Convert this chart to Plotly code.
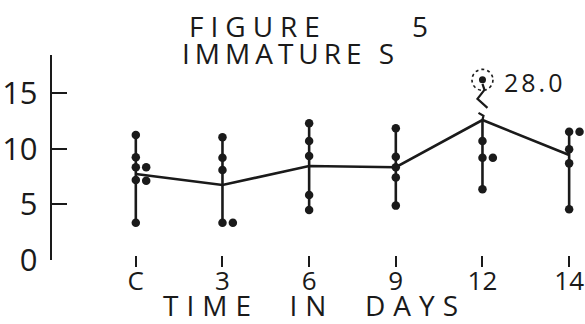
import plotly.graph_objects as go

# ---- data ----
categories = ["C", "3", "6", "9", "12", "14"]
means = [7.73, 6.74, 8.45, 8.34, 12.59, 9.44]
points_on_line = [
    [11.24, 9.24, 8.34, 7.19, 3.35],
    [11.03, 9.20, 8.09, 3.35],
    [12.29, 10.70, 9.35, 5.85, 4.50],
    [11.84, 9.29, 8.34, 7.43, 4.89],
    [10.70, 9.20, 6.36],
    [11.54, 9.95, 8.69, 4.56],
]
points_side = [
    [8.34, 7.13],
    [3.35],
    [],
    [],
    [9.20],
    [11.54],
]
outlier_category = "12"
outlier_value = 28.0
outlier_plot_at = 16.2   # drawn above an axis break
y_ticks = [0, 5, 10, 15]

FONT = "Open Sans"
INK = "#1a1a1a"
SIDE_OFFSET = 0.12

xi = list(range(len(categories)))
oi = categories.index(outlier_category)

fig = go.Figure()

# vertical range lines
vx, vy = [], []
for i, pts in enumerate(points_on_line):
    allv = pts + [means[i]]
    vx += [i, i, None]
    vy += [min(allv), max(allv), None]
fig.add_trace(go.Scatter(x=vx, y=vy, mode="lines",
                         line=dict(color=INK, width=2.6), hoverinfo="skip"))

# mean line
fig.add_trace(go.Scatter(x=xi, y=means, mode="lines",
                         line=dict(color=INK, width=2.6)))

# dots on line
dx, dy = [], []
for i, pts in enumerate(points_on_line):
    dx += [i] * len(pts)
    dy += pts
fig.add_trace(go.Scatter(x=dx, y=dy, mode="markers",
                         marker=dict(color=INK, size=8.5)))

# side dots (ties)
sx, sy = [], []
for i, pts in enumerate(points_side):
    sx += [i + SIDE_OFFSET] * len(pts)
    sy += pts
fig.add_trace(go.Scatter(x=sx, y=sy, mode="markers",
                         marker=dict(color=INK, size=8.5)))

# outlier
fig.add_trace(go.Scatter(x=[oi], y=[outlier_plot_at], mode="markers",
                         marker=dict(color=INK, size=7)))

fig.add_shape(type="circle", xref="x", yref="y",
              xsizemode="pixel", ysizemode="pixel",
              xanchor=oi, yanchor=outlier_plot_at,
              x0=-10.5, x1=10.5, y0=-10.5, y1=10.5,
              line=dict(color=INK, width=1.6, dash="dot"))
fig.add_shape(type="path", xref="x", yref="y",
              xsizemode="pixel", ysizemode="pixel",
              xanchor=oi, yanchor=outlier_plot_at,
              path="M 0,-4 L 2,-10 L -5,-19 L 5,-28 M -4,-33 L 1,-36 L 0,-40",
              line=dict(color=INK, width=2.2))
fig.add_annotation(x=oi, y=outlier_plot_at, xref="x", yref="y",
                   text=f'<span style="letter-spacing:3px">{outlier_value:.1f}</span>',
                   showarrow=False,
                   xanchor="left", yanchor="middle", xshift=20, yshift=-2,
                   font=dict(family=FONT, size=25, color=INK))

# titles
fig.add_annotation(x=258 / 585, y=1 - 25.5 / 324, xref="paper", yref="paper",
                   text='<span style="letter-spacing:7px">FIGURE</span>',
                   showarrow=False, xanchor="center", yanchor="middle",
                   font=dict(family=FONT, size=28, color=INK))
fig.add_annotation(x=420 / 585, y=1 - 25.5 / 324, xref="paper", yref="paper",
                   text='5',
                   showarrow=False, xanchor="center", yanchor="middle",
                   font=dict(family=FONT, size=28, color=INK))
fig.add_annotation(x=290 / 585, y=1 - 53 / 324, xref="paper", yref="paper",
                   text='<span style="letter-spacing:5px">IMMATURE S</span>',
                   showarrow=False, xanchor="center", yanchor="middle",
                   font=dict(family=FONT, size=28, color=INK))
fig.add_annotation(x=314 / 585, y=1 - 305 / 324, xref="paper", yref="paper",
                   text='<span style="letter-spacing:8px">TIME  IN  DAYS</span>',
                   showarrow=False, xanchor="center", yanchor="middle",
                   font=dict(family=FONT, size=28, color=INK))

fig.update_layout(
    width=585, height=324,
    margin=dict(l=0, r=0, t=0, b=0, autoexpand=False),
    paper_bgcolor="white", plot_bgcolor="white",
    showlegend=False,
    xaxis=dict(
        domain=[52 / 585, 1], range=[-0.967, 5.183],
        anchor="free", position=(324 - 255) / 324,
        tickmode="array", tickvals=xi, ticktext=categories,
        ticks="outside", ticklen=11, tickwidth=2, tickcolor=INK,
        showline=False, showgrid=False, zeroline=False,
        tickfont=dict(family=FONT, size=26, color=INK),
        ticklabelstandoff=-8, automargin=False,
    ),
    yaxis=dict(
        domain=[(324 - 260) / 324, (324 - 55) / 324],
        range=[0, (260 - 55) / 11.12],
        anchor="x",
        tickmode="array", tickvals=y_ticks,
        ticks="inside", ticklen=15, tickwidth=2.4, tickcolor=INK,
        showline=True, linecolor=INK, linewidth=2.4,
        showgrid=False, zeroline=False,
        tickfont=dict(family=FONT, size=31, color=INK),
        ticklabelstandoff=6, automargin=False,
    ),
)

fig.write_html("out.html")
